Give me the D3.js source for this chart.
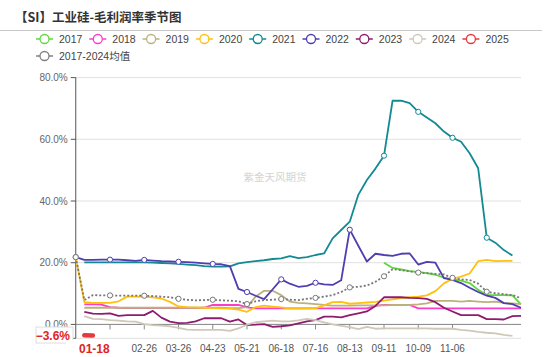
<!DOCTYPE html>
<html><head><meta charset="utf-8">
<script src="https://cdn.jsdelivr.net/npm/d3@7"></script>
<style>html,body{margin:0;padding:0;background:#fff;}svg{display:block;font-family:"Liberation Sans",Arial,sans-serif;}</style>
</head><body>
<svg id="c" width="550" height="357"></svg>
<script>
const categories = ["01-04","01-11","01-18","01-22","01-29","02-05","02-12","02-19","02-26","03-05","03-12","03-19","03-26","04-02","04-09","04-16","04-23","04-30","05-07","05-14","05-21","05-28","06-04","06-11","06-18","06-25","07-02","07-09","07-16","07-23","07-30","08-06","08-13","08-20","08-27","09-04","09-11","09-18","09-25","10-02","10-09","10-16","10-23","10-30","11-06","11-13","11-20","11-27","12-04","12-11","12-18","12-25","12-31"];
const tickPositions = ["01-29","02-26","03-26","04-23","05-21","06-18","07-16","08-13","09-11","10-09","11-06"];
const tickLabels = ["","02-26","03-26","04-23","05-21","06-18","07-16","08-13","09-11","10-09","11-06"];
const yTicks = [-4.5, 0, 20, 40, 60, 80];
const yTickLabels = ["", "0.0%", "20.0%", "40.0%", "60.0%", "80.0%"];
const seriesNames = ["2017","2018","2019","2020","2021","2022","2023","2024","2025","2017-2024均值"];
const _ = null;
const s2017 = [_,_,_,_,_,_,_,_,_,_,_,_,_,_,_,_,_,_,_,_,_,_,_,_,_,_,_,_,_,_,_,_,_,_,_,_,20.0,18.3,17.8,17.3,17.0,16.6,16.1,15.2,14.6,14.2,13.4,11.2,9.5,9.5,9.5,9.4,6.5];
const s2018 = [_,6.5,6.5,6.4,5.6,5.4,5.3,5.3,5.3,5.3,5.3,5.3,5.3,5.3,5.3,5.4,6.3,6.3,6.3,6.3,5.5,5.2,5.2,5.2,5.2,5.2,5.2,5.2,5.2,5.2,5.2,5.2,5.2,5.2,5.2,6.0,6.3,6.3,6.3,6.3,5.2,5.2,5.2,5.2,5.2,5.2,5.2,5.2,5.2,5.2,5.2,5.2,5.2];
const s2019 = [_,5.4,5.4,5.4,5.4,5.4,5.4,5.4,5.4,5.4,5.4,5.4,5.4,5.4,5.4,5.4,5.4,5.4,5.3,5.3,5.6,9.0,10.9,10.9,9.5,7.4,7.0,6.8,6.6,6.3,6.1,6.1,6.1,6.2,6.2,6.2,6.2,6.3,6.3,6.3,6.5,6.8,7.6,7.6,7.6,7.4,7.6,7.4,7.2,7.4,7.0,6.8,6.6];
const s2020 = [21.8,7.2,7.0,7.0,7.0,7.5,9.0,9.0,8.9,8.8,8.4,7.3,5.8,5.6,5.5,5.4,5.3,5.2,5.1,4.8,4.1,5.6,6.1,5.8,5.5,5.1,5.1,5.2,5.2,6.2,7.2,7.3,6.7,6.9,7.1,7.3,7.7,8.1,8.5,8.8,9.0,9.4,10.8,13.3,14.8,15.5,16.5,20.5,20.9,20.5,20.6,20.6,_];
const s2021 = [_,20.1,20.1,20.1,20.1,20.1,20.1,20.1,20.1,20.0,19.9,19.8,19.6,19.4,19.2,18.9,18.7,18.7,18.8,19.8,20.2,20.5,20.8,21.2,21.4,22.1,21.5,21.8,22.5,23.0,27.9,30.6,33.3,42.0,46.8,50.5,54.7,72.5,72.5,71.7,68.9,67.1,65.2,62.5,60.5,59.2,55.5,50.6,28.1,26.5,24.1,22.3,_];
const s2022 = [21.8,20.9,20.9,21.0,21.0,21.0,20.8,20.6,20.9,20.7,20.5,20.4,20.3,20.2,20.0,19.8,19.6,19.5,18.9,11.5,10.5,9.3,8.2,11.4,14.6,13.2,12.2,12.5,13.5,13.0,12.8,14.3,30.7,25.5,20.4,22.9,22.5,22.2,22.9,23.0,19.4,20.3,20.0,15.0,14.4,13.4,11.9,10.5,9.3,8.6,6.9,6.6,5.4];
const s2023 = [_,4.1,3.5,3.4,3.6,2.8,3.0,3.0,3.0,4.4,2.2,0.9,0.4,0.5,1.0,2.0,2.0,2.0,0.9,1.6,-0.2,-0.1,0.1,-0.8,-0.6,-0.3,0.3,1.0,1.4,2.5,2.5,2.3,3.0,3.6,4.2,6.0,8.8,8.8,8.8,8.6,8.5,8.3,7.2,5.4,4.2,3.0,3.0,3.0,1.7,1.7,1.6,2.7,2.8];
const s2024 = [_,2.7,1.8,1.7,1.4,1.2,1.0,0.9,0.1,-0.2,-0.4,-0.6,-1.1,-1.7,-1.8,-1.8,-1.8,-1.8,-2.1,-1.3,-0.1,0.7,1.0,1.2,1.0,1.0,1.3,1.8,1.4,0.7,0.0,-0.5,-0.9,-1.5,-0.8,-1.4,-1.3,-1.3,-1.3,-1.3,-1.3,-1.3,-1.4,-1.4,-1.4,-1.8,-2.0,-2.4,-2.7,-2.9,-3.4,-3.7,_];
const s2025 = [_,-3.5,-3.6];
const sAvg = [21.8,7.9,9.5,9.4,9.4,9.3,9.3,9.3,9.3,9.2,9.0,8.8,8.3,8.0,7.8,7.9,8.0,7.8,7.7,7.5,6.6,7.5,7.9,8.0,8.2,8.0,7.9,8.3,8.6,9.0,9.5,10.5,12.0,12.2,12.6,13.8,15.6,17.9,17.6,17.2,16.8,16.6,16.4,16.2,15.1,14.6,14.4,13.2,10.6,10.1,9.8,9.5,8.5];
const pointerCategory = "01-18";
const pointerValue = -3.6;

const colors = ["#5fd83b","#fb3ec8","#bdb07c","#ffc10e","#138a92","#4e3eb0","#8e1c6e","#d0c7b9","#e8383d","#808080"];
const data = [s2017,s2018,s2019,s2020,s2021,s2022,s2023,s2024,s2025,sAvg];
const markerSets = [[],[],[],[],[36,40,44,48],[0,4,8,12,16,20,24,28,32],[],[],[],[0,4,8,12,16,20,24,28,32,36,40,44,48]];

const svg = d3.select("#c");
const L = 75.75, R = 521, T = 77.6, B = 338.3;
const x = d3.scalePoint().domain(categories).range([L, R]).padding(0);
const y = d3.scaleLinear().domain([-4.5, 80]).range([B, T]);

// title
svg.append("text").attr("x",15).attr("y",22).attr("font-size",12.5).attr("font-weight","bold")
  .attr("font-family","'Noto Sans CJK SC',sans-serif").attr("fill","#333").text("【SI】工业硅-毛利润率季节图");
svg.append("line").attr("x1",0).attr("x2",542).attr("y1",30.5).attr("y2",30.5).attr("stroke","#c8c8c8");

// legend
seriesNames.forEach((n,k)=>{
  const row = k < 9 ? 0 : 1;
  const lx = 36 + (k < 9 ? k : 0) * 53.3;
  const ly = row === 0 ? 39 : 56;
  const g = svg.append("g");
  g.append("line").attr("x1",lx).attr("x2",lx+17).attr("y1",ly).attr("y2",ly).attr("stroke",colors[k]).attr("stroke-width",1.5);
  g.append("circle").attr("cx",lx+8.5).attr("cy",ly).attr("r",4.5).attr("fill","#fff").attr("stroke",colors[k]).attr("stroke-width",1.3);
  g.append("text").attr("x",lx+23).attr("y",ly+3.6).attr("font-size",10.5).attr("fill","#444")
    .attr("font-family","'Liberation Sans','Noto Sans CJK SC',sans-serif").text(n);
});

// gridlines
yTicks.forEach(t=>{
  svg.append("line").attr("x1",L).attr("x2",R).attr("y1",y(t)).attr("y2",y(t)).attr("stroke","#e0e0e0").attr("stroke-width",1);
});

// watermark
svg.append("text").attr("x",275).attr("y",181).attr("text-anchor","middle").attr("font-size",10.5)
  .attr("font-family","'Noto Sans CJK SC',sans-serif").attr("fill","#d4d4d4").text("紫金天风期货");

// y axis
svg.append("line").attr("x1",L).attr("x2",L).attr("y1",T).attr("y2",B).attr("stroke","#555").attr("stroke-width",1);
yTicks.forEach((t,i)=>{
  svg.append("line").attr("x1",L-5).attr("x2",L).attr("y1",y(t)).attr("y2",y(t)).attr("stroke","#555");
  if (yTickLabels[i]) svg.append("text").attr("x",L-8).attr("y",y(t)+3.5).attr("text-anchor","end").attr("font-size",10).attr("fill","#666")
    .text(yTickLabels[i]);
});

// x axis at zero
const y0 = y(0);
svg.append("line").attr("x1",L).attr("x2",R).attr("y1",y0).attr("y2",y0).attr("stroke","#888").attr("stroke-width",1);
tickPositions.forEach((p,i)=>{
  const xx = x(p);
  svg.append("line").attr("x1",xx).attr("x2",xx).attr("y1",y0).attr("y2",y0+5).attr("stroke","#888");
  if (tickLabels[i]) svg.append("text").attr("x",xx).attr("y",352).attr("text-anchor","middle").attr("font-size",10).attr("fill","#555").text(tickLabels[i]);
});

// series
const line = d3.line().defined(d=>d[1]!=null).x(d=>x(categories[d[0]])).y(d=>y(d[1]));
data.forEach((arr,k)=>{
  const pts = arr.map((v,i)=>[i,v]);
  const p = svg.append("path").attr("d",line(pts)).attr("fill","none").attr("stroke",colors[k])
    .attr("stroke-width", k===8 ? 4.5 : 1.8).attr("stroke-linejoin","round");
  if (k===8) p.attr("stroke-linecap","round");
  if (k===9) p.attr("stroke-dasharray","2,2").attr("stroke","#777");
});
data.forEach((arr,k)=>{
  markerSets[k].forEach(i=>{
    if (arr[i]==null) return;
    svg.append("circle").attr("cx",x(categories[i])).attr("cy",y(arr[i])).attr("r",2.6)
      .attr("fill","#fff").attr("stroke",k===9?"#777":colors[k]).attr("stroke-width",1);
  });
});

// axis pointer labels
const yb = y(pointerValue);
svg.append("rect").attr("x",36).attr("y",yb-8.5).attr("width",37).attr("height",16).attr("fill","#fff").attr("stroke","#ddd");
svg.append("text").attr("x",70).attr("y",yb+4.3).attr("text-anchor","end").attr("font-size",12).attr("font-weight","bold")
  .attr("fill","#e02424").text(d3.format(".1f")(pointerValue)+"%");
const xp = x(pointerCategory);
svg.append("rect").attr("x",xp-27).attr("y",340).attr("width",56).attr("height",17).attr("fill","#fff");
svg.append("text").attr("x",xp+1.5).attr("y",353).attr("text-anchor","middle").attr("font-size",12).attr("font-weight","bold")
  .attr("fill","#e02424").text(pointerCategory);
</script>
</body></html>
